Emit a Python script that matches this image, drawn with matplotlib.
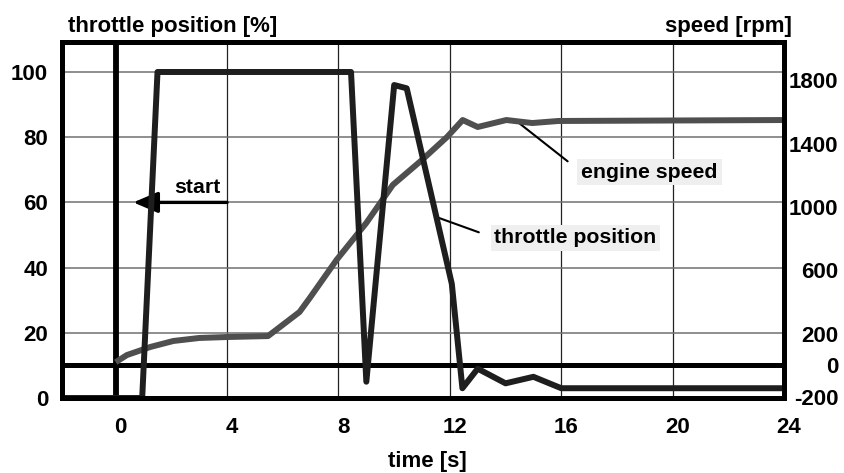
import matplotlib
matplotlib.use("Agg")
import matplotlib.pyplot as plt
import matplotlib.transforms as mtransforms

plt.rcParams['font.family'] = ['Liberation Sans', 'DejaVu Sans']
plt.rcParams['font.weight'] = 'bold'
plt.rcParams['axes.unicode_minus'] = False

# throttle position [%] over time [s]
throttle_time = [-2.0, 0.95, 1.5, 8.45, 9.0, 10.0, 10.45, 12.07, 12.45, 13.0, 14.0, 15.0, 16.0, 24.0]
throttle_pct = [0, 0, 100, 100, 5, 96, 95, 35, 3, 9, 4.5, 6.5, 3, 3]

# engine speed [rpm] over time [s]
speed_time = [0.0, 0.4, 1.24, 2.07, 3.0, 4.0, 5.47, 6.6, 6.97, 7.93, 9.0, 9.95, 11.0, 11.9,
              12.46, 13.0, 14.03, 14.96, 15.9, 24.0]
speed_rpm = [20, 65, 116, 154, 173, 179, 185, 337, 426, 666, 900, 1140, 1298, 1443,
             1550, 1506, 1550, 1531, 1544, 1550]

x_ticks = [0, 4, 8, 12, 16, 20, 24]
pct_ticks = [0, 20, 40, 60, 80, 100]
rpm_ticks = [-200, 0, 200, 600, 1000, 1400, 1800]

FS = 16
DARK = '#1e1e1e'
GREY = '#4f4f4f'

fig = plt.figure(figsize=(8.44, 4.73), dpi=100, facecolor='white')
ax = fig.add_axes([62 / 844, 1 - 398 / 473, 722 / 844, 356 / 473])
ax.set_xlim(-1.93, 24)
ax.set_ylim(0, 109.2)

# grid on the left (percent) axes
ax.set_xticks(x_ticks)
ax.set_yticks(pct_ticks)
ax.xaxis.grid(True, color='#222222', lw=0.9)
ax.yaxis.grid(True, color='#707070', lw=1.1)
ax.set_axisbelow(True)
ax.tick_params(axis='both', length=0, labelsize=FS)
ax.tick_params(axis='x', pad=13.5)
ax.tick_params(axis='y', pad=10)
shift = mtransforms.ScaledTranslation(0.05, 0, fig.dpi_scale_trans)
for lbl in ax.get_xticklabels():
    lbl.set_transform(lbl.get_transform() + shift)

for sp in ax.spines.values():
    sp.set_linewidth(3.6)
    sp.set_color('black')

# start marker at t = 0
ax.axvline(0, color='black', lw=4.2, zorder=2)

# right (rpm) axes, drawn over the grid
ax2 = ax.twinx()
ax2.set_ylim(-206.3, 2043)
ax2.set_yticks(rpm_ticks)
ax2.tick_params(axis='y', length=0, pad=39, labelsize=FS)
for lbl in ax2.get_yticklabels():
    lbl.set_ha('right')

ax2.axhline(0, color='black', lw=3.6, zorder=2)
ax2.plot(speed_time, speed_rpm, color=GREY, lw=4.3, solid_joinstyle='round',
         solid_capstyle='butt', zorder=3)
ax2.plot(throttle_time, throttle_pct, color=DARK, lw=4.3, solid_joinstyle='round',
         solid_capstyle='butt', transform=ax.transData, zorder=4)
ax2.set_ylim(-206.3, 2043)

# frame drawn on top of the curves
for side in ['left', 'right', 'top', 'bottom']:
    sp = ax2.spines[side]
    sp.set_visible(True)
    sp.set_linewidth(3.6)
    sp.set_color('black')
    sp.set_zorder(5)

# annotations
ax.annotate('', xy=(0.63, 60), xytext=(4.0, 60),
            arrowprops=dict(arrowstyle='-|>,head_length=0.75,head_width=0.32',
                            mutation_scale=20, lw=2.4, color='black',
                            shrinkA=0, shrinkB=0))
ax.text(3.75, 61.8, 'start', ha='right', va='bottom', fontsize=15.3)

box = dict(boxstyle='square,pad=0.18', fc='#efefef', ec='none')
ax.annotate('engine speed', xy=(14.43, 84.7), xytext=(16.72, 69.3),
            ha='left', va='center', fontsize=15.3, bbox=box,
            arrowprops=dict(arrowstyle='-', lw=1.5, color='black',
                            shrinkA=9, shrinkB=0, relpos=(0, 0.5)))
ax.annotate('throttle position', xy=(11.52, 55.5), xytext=(13.6, 49.1),
            ha='left', va='center', fontsize=15.3, bbox=box,
            arrowprops=dict(arrowstyle='-', lw=1.5, color='black',
                            shrinkA=9, shrinkB=0, relpos=(0, 0.5)))

# axis titles
ax.text(0.0083, 1.0267, 'throttle position [%]', transform=ax.transAxes,
        ha='left', va='baseline', fontsize=FS)
ax.text(1.011, 1.0267, 'speed [rpm]', transform=ax.transAxes,
        ha='right', va='baseline', fontsize=FS)
ax.text(0.506, -0.195, 'time [s]', transform=ax.transAxes,
        ha='center', va='baseline', fontsize=FS)

fig.savefig('out.png', dpi=100, facecolor='white')
